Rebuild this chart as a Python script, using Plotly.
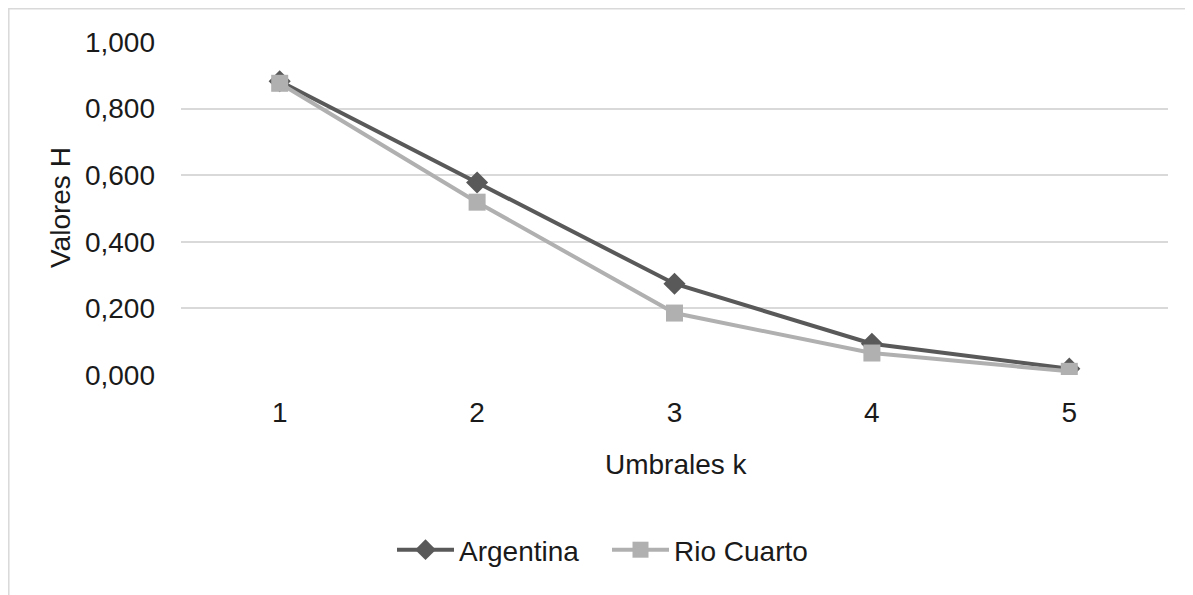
import plotly.graph_objects as go

categories = ["1", "2", "3", "4", "5"]
argentina = [0.882, 0.578, 0.274, 0.094, 0.019]
rio_cuarto = [0.876, 0.519, 0.186, 0.066, 0.011]
series_names = ["Argentina", "Rio Cuarto"]
y_ticks = [0.0, 0.2, 0.4, 0.6, 0.8, 1.0]

FONT = "Liberation Sans, Arial, sans-serif"
TXT = "#1a1a1a"

# page offset of 8px from default body margin
W, H = 1185, 587
L, T, R, B = 173, 34, 25, 220
PW = W - L - R
PH = H - T - B


def px(xpage):
    return (xpage - 8 - L) / PW


def py(ypage):
    return (H - B - (ypage - 8)) / PH


fig = go.Figure()
fig.add_trace(go.Scatter(
    x=categories, y=argentina, name=series_names[0], mode="lines+markers",
    line=dict(color="#595959", width=4),
    marker=dict(symbol="diamond", size=17, color="#595959"),
))
fig.add_trace(go.Scatter(
    x=categories, y=rio_cuarto, name=series_names[1], mode="lines+markers",
    line=dict(color="#b0b0b0", width=4),
    marker=dict(symbol="square", size=17, color="#b0b0b0"),
))

fig.update_layout(
    width=W, height=H,
    margin=dict(l=L, r=R, t=T, b=B),
    paper_bgcolor="white", plot_bgcolor="white",
    separators=",.",
    font=dict(family=FONT, size=28, color=TXT),
    showlegend=True,
    legend=dict(orientation="h", x=px(392), xanchor="left", y=py(550), yanchor="middle",
                font=dict(size=28, color=TXT), itemwidth=57, entrywidth=143,
                tracegroupgap=0),
    xaxis=dict(type="category", range=[-0.5, 4.5], showgrid=False, zeroline=False,
               showline=False, ticks="", ticklabelstandoff=18,
               tickfont=dict(size=28, color=TXT)),
    yaxis=dict(range=[0, 1], tickvals=y_ticks, tickformat=".3f",
               showgrid=True, gridcolor="#d9d9d9", gridwidth=1.5,
               zeroline=False, showline=False, ticks="", ticklabelstandoff=25,
               tickfont=dict(size=28, color=TXT)),
    annotations=[
        dict(text="Valores H", xref="paper", yref="paper", x=px(60), y=py(208),
             textangle=-90, showarrow=False, xanchor="center", yanchor="middle",
             font=dict(size=28, color=TXT)),
        dict(text="Umbrales k", xref="paper", yref="paper", x=px(676), y=py(465),
             showarrow=False, xanchor="center", yanchor="middle",
             font=dict(size=28, color=TXT)),
    ],
    shapes=[dict(type="rect", xref="paper", yref="paper",
                 x0=px(8.8), x1=px(1210),
                 y0=py(620), y1=py(8.8),
                 line=dict(color="#d9d9d9", width=1.5), layer="below")],
)

fig.write_html("out.html")
